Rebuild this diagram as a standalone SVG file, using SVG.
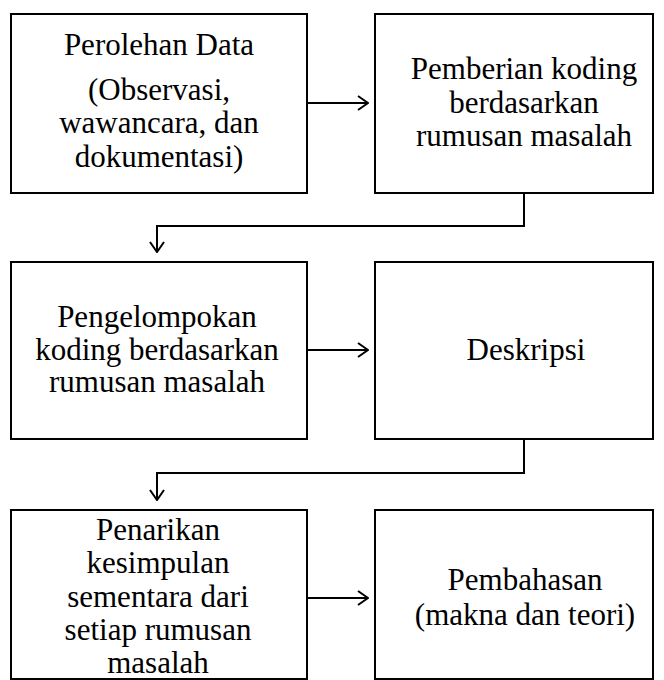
<svg xmlns="http://www.w3.org/2000/svg" width="664" height="680" viewBox="0 0 664 680">
<style>
.box{fill:#fff;stroke:#000;stroke-width:2}
.t{font-family:"Liberation Serif","Times New Roman",serif;font-size:31px;fill:#000;text-anchor:middle}
.c{fill:none;stroke:#000;stroke-width:2}
</style>
<defs>
<marker id="ah" viewBox="0 0 12 16" refX="11" refY="8" markerWidth="12" markerHeight="16" markerUnits="userSpaceOnUse" orient="auto">
<path d="M1,1 L11,8 L1,15" fill="none" stroke="#000" stroke-width="2"/>
</marker>
</defs>
<rect width="664" height="680" fill="#fff"/>
<g id="n1">
<rect class="box" x="11" y="14" width="296" height="179"/>
<text class="t" x="159" y="55">Perolehan Data</text>
<text class="t" x="159" y="100">(Observasi,</text>
<text class="t" x="159" y="133">wawancara, dan</text>
<text class="t" x="159" y="167">dokumentasi)</text>
</g>
<g id="n2">
<rect class="box" x="375" y="14" width="278" height="179"/>
<text class="t" x="524" y="79">Pemberian koding</text>
<text class="t" x="524" y="113">berdasarkan</text>
<text class="t" x="524" y="146">rumusan masalah</text>
</g>
<g id="n3">
<rect class="box" x="11" y="262" width="296" height="177"/>
<text class="t" x="157" y="327">Pengelompokan</text>
<text class="t" x="157" y="360">koding berdasarkan</text>
<text class="t" x="157" y="392">rumusan masalah</text>
</g>
<g id="n4">
<rect class="box" x="375" y="262" width="278" height="177"/>
<text class="t" x="526" y="360">Deskripsi</text>
</g>
<g id="n5">
<rect class="box" x="11" y="510" width="296" height="169"/>
<text class="t" x="158" y="540">Penarikan</text>
<text class="t" x="158" y="573">kesimpulan</text>
<text class="t" x="158" y="607">sementara dari</text>
<text class="t" x="158" y="640">setiap rumusan</text>
<text class="t" x="158" y="673">masalah</text>
</g>
<g id="n6">
<rect class="box" x="375" y="510" width="278" height="169"/>
<text class="t" x="525" y="590">Pembahasan</text>
<text class="t" x="525" y="625">(makna dan teori)</text>
</g>
<g id="connectors">
<path class="c" d="M307,103 H368" marker-end="url(#ah)"/>
<path class="c" d="M524,193 V226 H157 V252" marker-end="url(#ah)"/>
<path class="c" d="M307,350 H368" marker-end="url(#ah)"/>
<path class="c" d="M524,439 V473 H157 V500" marker-end="url(#ah)"/>
<path class="c" d="M307,598 H368" marker-end="url(#ah)"/>
</g>
</svg>
